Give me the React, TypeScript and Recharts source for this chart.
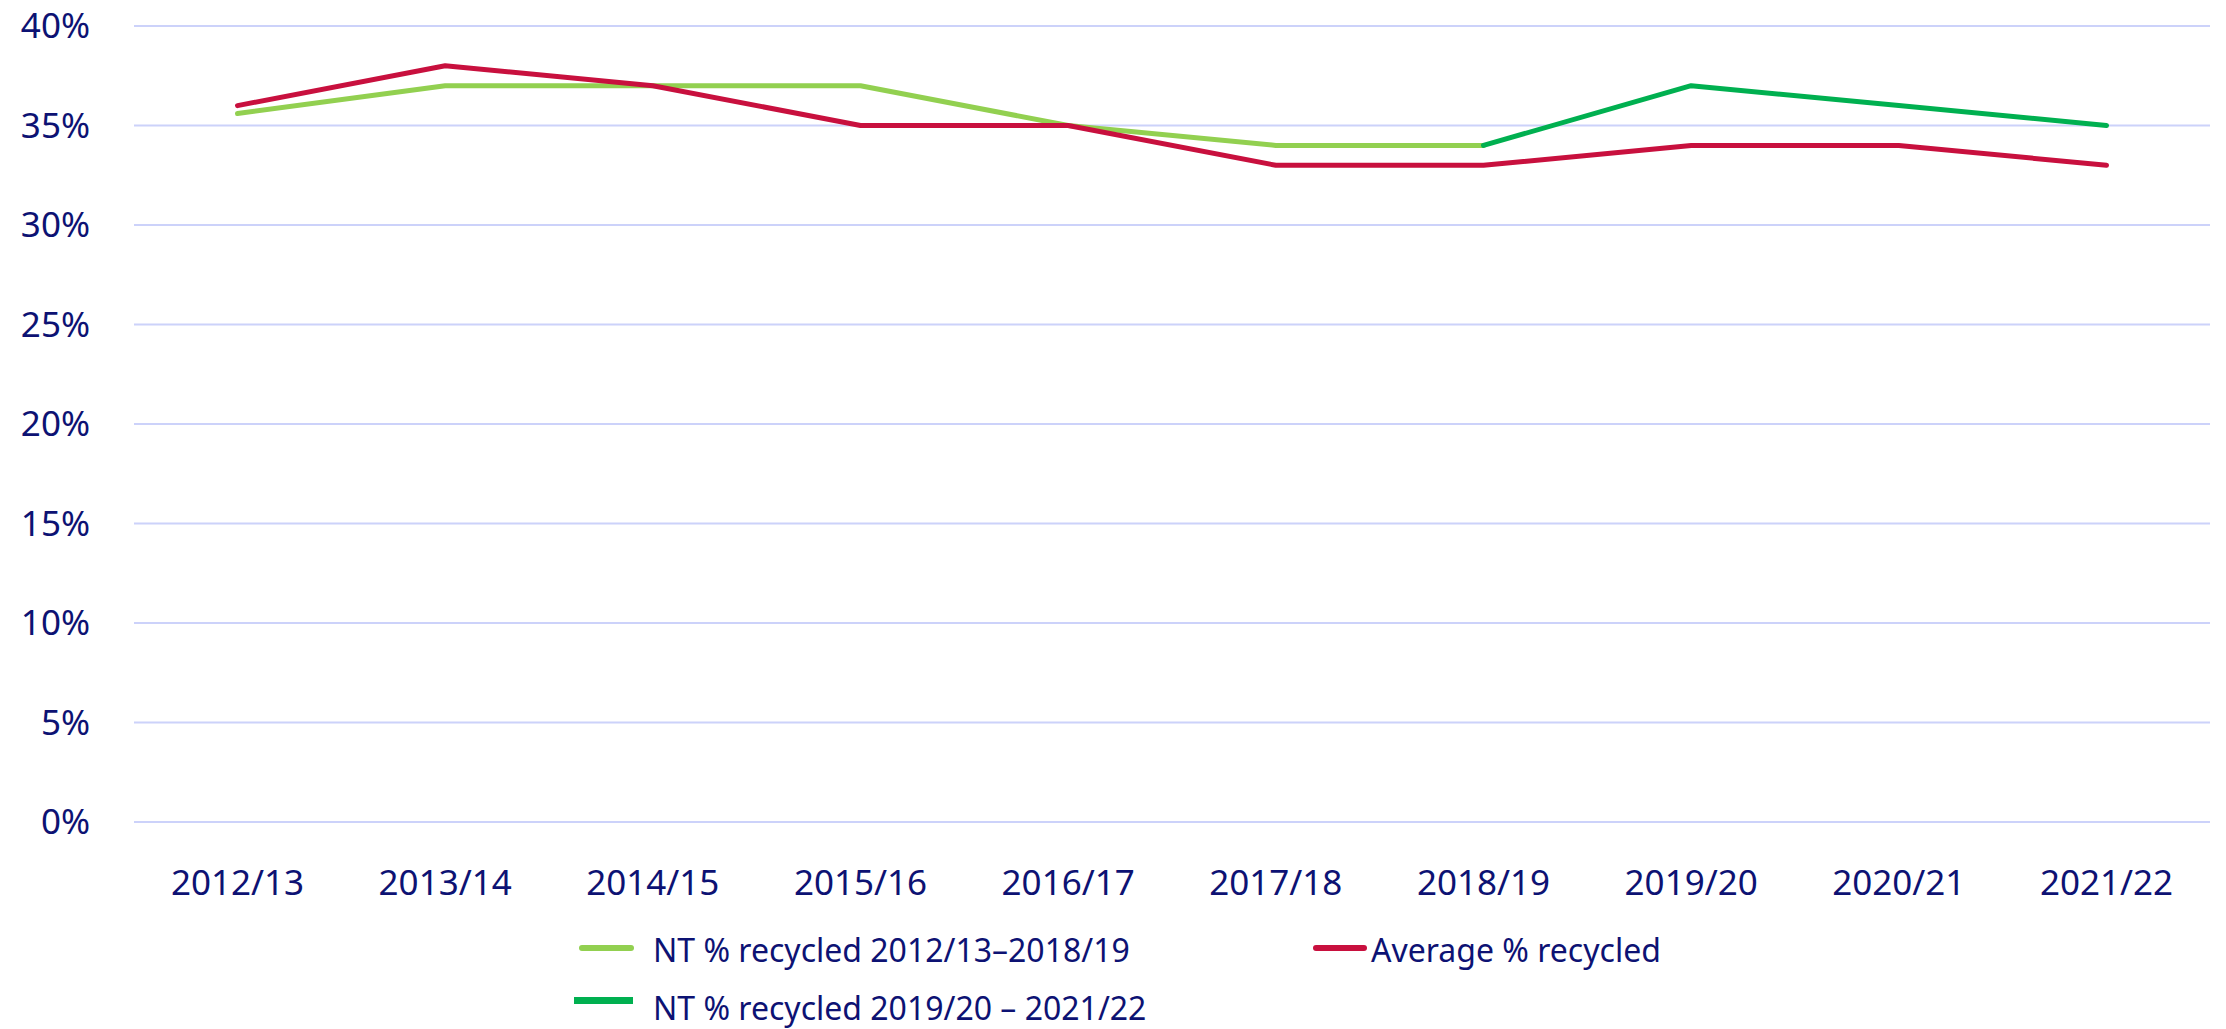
import React from "react";
import { LineChart, Line, XAxis, YAxis, CartesianGrid } from "recharts";

const years = ["2012/13", "2013/14", "2014/15", "2015/16", "2016/17", "2017/18", "2018/19", "2019/20", "2020/21", "2021/22"];
const ntEarly: (number | null)[] = [35.6, 37, 37, 37, 35, 34, 34, null, null, null];
const ntLate: (number | null)[] = [null, null, null, null, null, null, 34, 37, 36, 35];
const average: number[] = [36, 38, 37, 35, 35, 33, 33, 34, 34, 33];
const yTicks = [0, 5, 10, 15, 20, 25, 30, 35, 40];

const seriesNames = {
  ntEarly: "NT % recycled 2012/13\u20132018/19",
  average: "Average % recycled",
  ntLate: "NT % recycled 2019/20 \u2013 2021/22",
};

const TEXT = "#0d1273";
const LIGHT_GREEN = "#92d050";
const DARK_GREEN = "#00b050";
const RED = "#c8103e";
const GRID = "#ccd2fa";
const FONT = "'Noto Sans', sans-serif";

const data = years.map((year, i) => ({
  year,
  ntEarly: ntEarly[i],
  ntLate: ntLate[i],
  average: average[i],
}));

export default function App() {
  return (
    <div style={{ position: "absolute", left: 0, top: 0, width: 2226, height: 1029, background: "#fff", fontFamily: FONT }}>
      <LineChart width={2226} height={1029} data={data} margin={{ top: 26, right: 16, bottom: 147, left: 0 }}>
        <CartesianGrid vertical={false} stroke={GRID} strokeWidth={2} />
        <XAxis
          dataKey="year"
          interval={0}
          padding={{ left: 103.5, right: 103.5 }}
          axisLine={false}
          tickLine={false}
          tickSize={0}
          tickMargin={48}
          height={60}
          tick={{ fill: TEXT, fontSize: 35, fontFamily: FONT }}
        />
        <YAxis
          domain={[0, 40]}
          ticks={yTicks}
          interval={0}
          width={134}
          axisLine={false}
          tickLine={false}
          tickSize={0}
          tickMargin={44}
          tickFormatter={(v: number) => `${v}%`}
          tick={{ fill: TEXT, fontSize: 35, fontFamily: FONT }}
        />
        <Line dataKey="ntEarly" name={seriesNames.ntEarly} stroke={LIGHT_GREEN} strokeWidth={5} dot={false} strokeLinecap="round" strokeLinejoin="round" isAnimationActive={false} connectNulls={false} />
        <Line dataKey="ntLate" name={seriesNames.ntLate} stroke={DARK_GREEN} strokeWidth={5} dot={false} strokeLinecap="round" strokeLinejoin="round" isAnimationActive={false} connectNulls={false} />
        <Line dataKey="average" name={seriesNames.average} stroke={RED} strokeWidth={5} dot={false} strokeLinecap="round" strokeLinejoin="round" isAnimationActive={false} />
      </LineChart>
      <svg width={2226} height={1029} style={{ position: "absolute", left: 0, top: 0, pointerEvents: "none" }}>
        <line x1={582} x2={631} y1={948} y2={948} stroke={LIGHT_GREEN} strokeWidth={6} strokeLinecap="round" />
        <text x={653} y={962} fill={TEXT} fontSize={32} fontFamily={FONT}>{seriesNames.ntEarly}</text>
        <line x1={1316} x2={1364} y1={948} y2={948} stroke={RED} strokeWidth={6} strokeLinecap="round" />
        <text x={1371} y={962} fill={TEXT} fontSize={32} fontFamily={FONT}>{seriesNames.average}</text>
        <rect x={574} y={997} width={59} height={7} fill={DARK_GREEN} />
        <text x={653} y={1020} fill={TEXT} fontSize={32} fontFamily={FONT}>{seriesNames.ntLate}</text>
      </svg>
    </div>
  );
}
